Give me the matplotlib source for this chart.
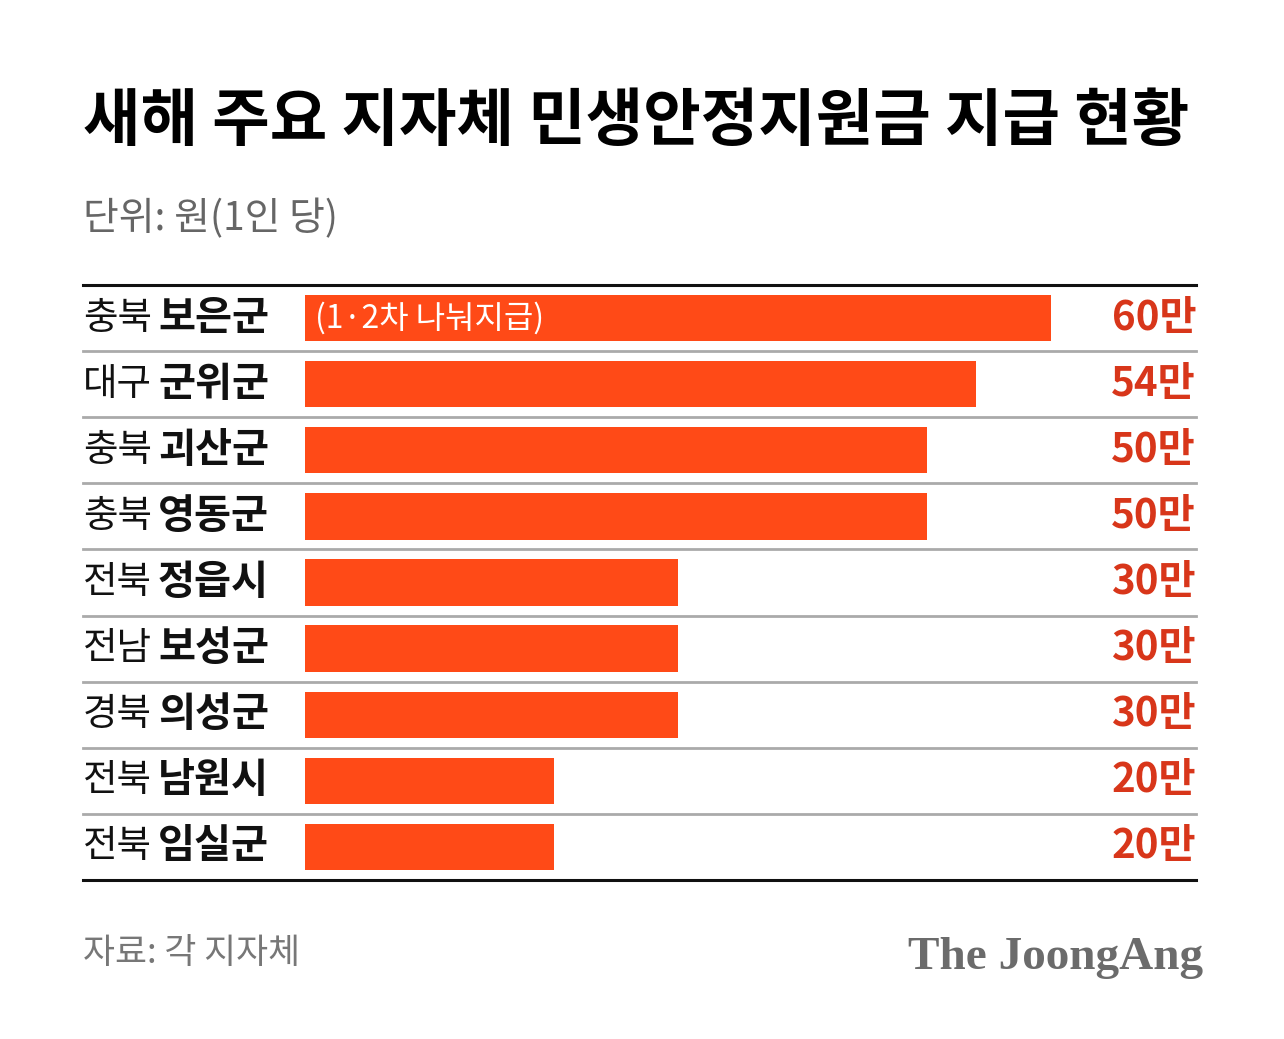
import matplotlib
matplotlib.use("Agg")
import matplotlib.pyplot as plt

plt.rcParams['font.family'] = ['Noto Sans CJK KR', 'DejaVu Sans']

regions = ["충북", "대구", "충북", "충북", "전북", "전남", "경북", "전북", "전북"]
names = ["보은군", "군위군", "괴산군", "영동군", "정읍시", "보성군", "의성군", "남원시", "임실군"]
values = [60, 54, 50, 50, 30, 30, 30, 20, 20]
value_labels = ["60만", "54만", "50만", "50만", "30만", "30만", "30만", "20만", "20만"]
note = "(1·2차 나눠지급)"
title = "새해 주요 지자체 민생안정지원금 지급 현황"
subtitle = "단위: 원(1인 당)"
source = "자료: 각 지자체"
brand = "The JoongAng"

W, H = 1284, 1039
fig = plt.figure(figsize=(W / 100, H / 100), dpi=100)
fig.patch.set_facecolor("white")

left_px, right_px, top_px, bot_px = 83, 1196, 285, 880
ax = fig.add_axes([left_px / W, 1 - bot_px / H, (right_px - left_px) / W, (bot_px - top_px) / H])
ppu = (1051 - 305) / 60.0
x0 = -(305 - left_px) / ppu
x1 = (right_px - 305) / ppu
ax.set_xlim(x0, x1)
n = len(values)
ax.set_ylim(n, 0)
ax.axis("off")

bar_color = "#ff4a17"
val_color = "#d8361a"
ys = [i + 0.5 for i in range(n)]
ax.barh(ys, values, height=0.70, color=bar_color, left=0)

for i in range(n + 1):
    if i == 0 or i == n:
        ax.axhline(i, color="#111111", lw=2.2, clip_on=False)
    else:
        ax.axhline(i, color="#aaaaaa", lw=2.0, clip_on=False)

tr = ax.get_yaxis_transform()
for i, y in enumerate(ys):
    ax.text(0.0, y, regions[i], transform=tr, ha="left", va="center",
            fontsize=27, color="#111111")
    ax.text((158 - left_px) / (right_px - left_px), y, names[i], transform=tr,
            ha="left", va="center", fontsize=29, fontweight="heavy", color="#111111")
    ax.text(1.0, y, value_labels[i], transform=tr, ha="right", va="center",
            fontsize=29, fontweight="heavy", color=val_color)

ax.text(0.8, ys[0], note, ha="left", va="center", fontsize=23, color="white")

fig.text(83 / W, 1 - 122 / H, title, ha="left", va="center", fontsize=45,
         fontweight="heavy", color="#000000")
fig.text(83 / W, 1 - 219 / H, subtitle, ha="left", va="center", fontsize=28,
         fontweight="medium", color="#666666")
fig.text(83 / W, 1 - 953 / H, source, ha="left", va="center", fontsize=25,
         fontweight="medium", color="#777777")
fig.text(1203 / W, 1 - 958 / H, brand, ha="right", va="center", fontsize=34,
         fontweight="bold", color="#6b6b6b", family=["Liberation Serif", "DejaVu Serif"])

fig.savefig("out.png", dpi=100, facecolor="white")
